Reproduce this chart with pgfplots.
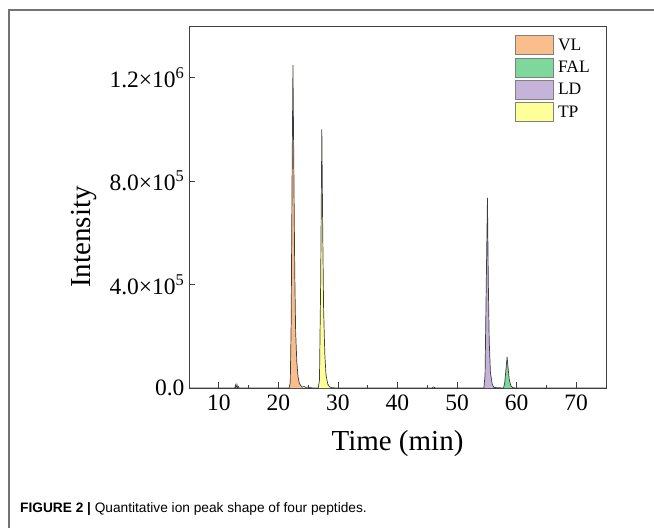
\documentclass[border=0pt]{standalone}
\usepackage{pgfplots}
\pgfplotsset{compat=1.18}
\usepackage{fontspec}
\setmainfont{Liberation Serif}
\newfontfamily\capfont{Liberation Sans}
\definecolor{vl}{HTML}{F9BE8C}
\definecolor{fal}{HTML}{7ED89B}
\definecolor{ld}{HTML}{C5B3DA}
\definecolor{tp}{HTML}{FFFF99}
\definecolor{trace}{HTML}{3C3C3C}
\begin{document}
\begin{tikzpicture}[x=1pt,y=1pt]
\useasboundingbox (0,0) rectangle (654,528);
\draw[black!55, line width=1.3pt] (9,0) -- (9,518) -- (654,518);
\node[anchor=base west, inner sep=0pt, font=\capfont\fontsize{13.7}{16}\selectfont] at (20,15.5)
  {\textbf{FIGURE 2 |} Quantitative ion peak shape of four peptides.};
\begin{axis}[
  at={(189pt,140pt)}, anchor=south west,
  scale only axis, width=417pt, height=362pt,
  xmin=5, xmax=75, ymin=0, ymax=1.4e6,
  xtick={10,20,...,70}, minor x tick num=1,
  ytick={0,4e5,8e5,1.2e6},
  yticklabels={0.0, 4.0×10\textsuperscript{5}, 8.0×10\textsuperscript{5}, 1.2×10\textsuperscript{6}},
  scaled y ticks=false,
  tick align=inside, xtick pos=bottom, ytick pos=left,
  major tick length=6pt, minor tick length=3.5pt,
  every tick/.style={black!75, line width=0.8pt},
  axis line style={black!75, line width=0.9pt},
  ticklabel style={font=\fontsize{23.5}{26}\selectfont},
  /pgf/number format/assume math mode=true,
  xticklabel style={yshift=-3pt},
  yticklabel style={xshift=-1pt},
  xlabel={Time (min)},
  ylabel={Intensity},
  xlabel style={font=\fontsize{29}{32}\selectfont, at={(rel axis cs:0.5,0)}, anchor=north, yshift=-39pt},
  ylabel style={font=\fontsize{29}{32}\selectfont, at={(rel axis cs:0,0.417)}, anchor=south, yshift=89pt},
  legend style={at={(rel axis cs:0.976,0.98)}, anchor=north east, draw=none, fill=none,
    font=\fontsize{17.5}{19}\selectfont, row sep=2.5pt, inner sep=2pt,
    nodes={inner xsep=4pt}},
  legend cell align=left,
  legend image code/.code={\draw[#1, draw=black!50, line width=0.8pt] (0pt,-9.5pt) rectangle (38pt,9.5pt);},
]
\addplot[fill=vl, draw=none] coordinates {
(21.8,0) (22.0,2e4) (22.15,2.5e5) (22.3,8e5) (22.45,1.25e6) (22.6,8.5e5) (22.75,4.5e5)
(22.9,2.2e5) (23.1,1.0e5) (23.3,4.5e4) (23.5,2e4) (23.8,8e3) (24.0,0)} \closedcycle;
\addlegendentry{VL}
\addplot[fill=fal, draw=none] coordinates {
(57.8,0) (58.0,2e4) (58.2,7e4) (58.4,1.2e5) (58.55,8e4) (58.75,3.5e4) (59.0,1e4) (59.3,0)} \closedcycle;
\addlegendentry{FAL}
\addplot[fill=ld, draw=none] coordinates {
(54.5,0) (54.7,5e4) (54.9,4e5) (55.1,7.35e5) (55.25,4e5) (55.4,1.8e5) (55.6,6e4) (55.9,1.5e4) (56.2,0)} \closedcycle;
\addlegendentry{LD}
\addplot[fill=tp, draw=none] coordinates {
(26.7,0) (26.9,3e4) (27.1,4e5) (27.3,1.0e6) (27.45,6e5) (27.6,3e5) (27.8,1.3e5) (28.0,5e4)
(28.3,1.5e4) (28.6,4e3) (29.0,0)} \closedcycle;
\addlegendentry{TP}
\addplot[trace, line width=0.7pt, forget plot] coordinates {
(5,0) (12.7,0) (12.8,1.1e4) (12.9,0) (13.05,1.4e4) (13.15,0) (13.3,6e3) (13.4,0)
(21.8,0) (22.0,2e4) (22.15,2.5e5) (22.3,8e5) (22.45,1.25e6) (22.6,8.5e5) (22.75,4.5e5)
(22.9,2.2e5) (23.1,1.0e5) (23.3,4.5e4) (23.5,2e4) (23.8,8e3) (24.0,3e3) (24.3,6e3) (24.6,2e3)
(25.0,4e3) (25.4,1e3) (26.0,0)
(26.7,0) (26.9,3e4) (27.1,4e5) (27.3,1.0e6) (27.45,6e5) (27.6,3e5) (27.8,1.3e5) (28.0,5e4)
(28.3,1.5e4) (28.6,4e3) (29.0,1e3) (30,0)
(45.8,0) (46.0,4e3) (46.2,2e3) (46.4,0)
(54.5,0) (54.7,5e4) (54.9,4e5) (55.1,7.35e5) (55.25,4e5) (55.4,1.8e5) (55.6,6e4) (55.9,1.5e4) (56.2,2e3)
(57.8,0) (58.0,2e4) (58.2,7e4) (58.4,1.2e5) (58.55,8e4) (58.75,3.5e4) (59.0,1e4) (59.3,2e3) (59.8,0)
(75,0)};
\end{axis}
\end{tikzpicture}
\end{document}
